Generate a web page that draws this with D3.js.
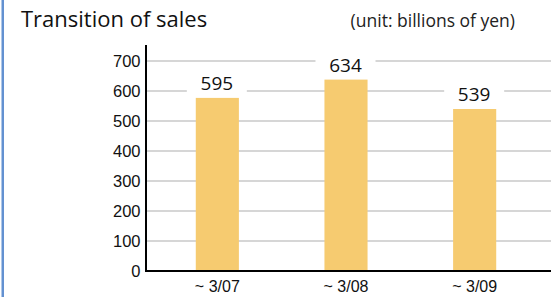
<!DOCTYPE html>
<html>
<head>
<meta charset="utf-8">
<script src="https://cdn.jsdelivr.net/npm/d3@7"></script>
<style>
  html, body { margin: 0; padding: 0; background: #fff; }
  svg { display: block; }
</style>
</head>
<body>
<svg id="chart" width="551" height="297"></svg>
<script>
// ---- data ----
const categories = ["~ 3/07", "~ 3/08", "~ 3/09"];
const salesLabels = [595, 634, 539];          // value labels printed above bars
const barHeights = [577, 638, 540];           // bar heights as drawn in the reference
const yTicks = [0, 100, 200, 300, 400, 500, 600, 700];
const titleText = "Transition of sales";
const unitText = "(unit: billions of yen)";

const svg = d3.select("#chart");
const W = 551, H = 297;

// left blue border
svg.append("rect").attr("x", 1.5).attr("y", 0).attr("width", 2.5).attr("height", H).attr("fill", "#6391d1");

const x = d3.scaleBand().domain(categories).range([153, 539]).paddingInner(0.665).paddingOuter(0.3325);
const y = d3.scaleLinear().domain([0, 700]).range([271, 61]);

// gridlines
svg.append("g").selectAll("line").data(yTicks.filter(d => d > 0)).join("line")
  .attr("x1", 147).attr("x2", W)
  .attr("y1", d => y(d)).attr("y2", d => y(d))
  .attr("stroke", "#c9c9c9").attr("stroke-width", 1.5);

// y tick labels via axis
const yAxis = d3.axisLeft(y).tickValues(yTicks).tickSize(0).tickPadding(0).tickFormat(d3.format("d"));
const gy = svg.append("g").attr("transform", "translate(140.5,0)").call(yAxis);
gy.select(".domain").remove();
gy.selectAll("text").attr("font-family", "'Liberation Sans', Arial, sans-serif").attr("font-size", 16.5).attr("fill", "#111");

// bars
svg.append("g").selectAll("rect").data(categories).join("rect")
  .attr("x", d => x(d))
  .attr("width", x.bandwidth())
  .attr("y", (d, i) => y(barHeights[i]))
  .attr("height", (d, i) => y(0) - y(barHeights[i]))
  .attr("fill", "#f6cb70");

// value labels with white backgrounds
const lab = svg.append("g").selectAll("g").data(categories).join("g")
  .attr("transform", (d, i) => `translate(${x(d) + x.bandwidth() / 2 - 0.5},${y(barHeights[i]) - 8})`);
lab.append("rect").attr("x", -30).attr("y", -18).attr("width", 60).attr("height", 22).attr("fill", "#fff");
lab.append("text").attr("text-anchor", "middle")
  .attr("font-family", "'Open Sans', 'Noto Sans', sans-serif").attr("font-size", 19).attr("fill", "#111")
  .text((d, i) => salesLabels[i]);

// axes lines
svg.append("line").attr("x1", 146).attr("x2", 146).attr("y1", 45).attr("y2", 272).attr("stroke", "#000").attr("stroke-width", 2);
svg.append("line").attr("x1", 145).attr("x2", W).attr("y1", 271).attr("y2", 271).attr("stroke", "#000").attr("stroke-width", 2);

// x labels
const xAxis = d3.axisBottom(x).tickSize(0).tickPadding(0);
const gx = svg.append("g").attr("transform", "translate(0,281)").call(xAxis);
gx.select(".domain").remove();
gx.selectAll("text").attr("font-family", "'Liberation Sans', Arial, sans-serif").attr("font-size", 16).attr("fill", "#111").attr("dy", "0.71em");

// title and unit
svg.append("text").attr("x", 21).attr("y", 26.5)
  .attr("font-family", "'Open Sans', 'Noto Sans', sans-serif").attr("font-size", 22).attr("fill", "#111")
  .text(titleText);
svg.append("text").attr("x", 515).attr("y", 26.5).attr("text-anchor", "end")
  .attr("font-family", "'Open Sans', 'Noto Sans', sans-serif").attr("font-size", 17.5).attr("fill", "#222")
  .text(unitText);
</script>
</body>
</html>
